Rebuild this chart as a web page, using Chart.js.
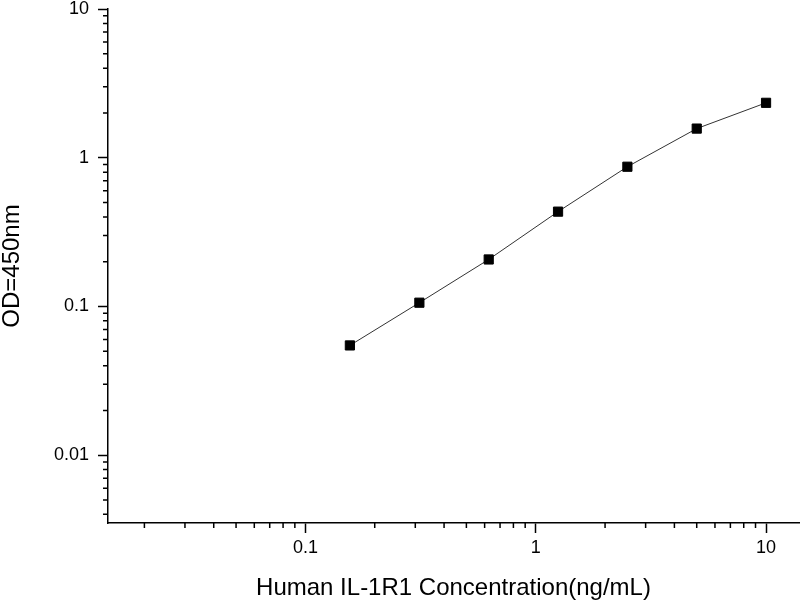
<!DOCTYPE html>
<html>
<head>
<meta charset="utf-8">
<script src="https://cdn.jsdelivr.net/npm/chart.js@4"></script>
<style>
  html, body { margin: 0; padding: 0; background: #fff; }
  #wrap { width: 800px; height: 600px; }
</style>
</head>
<body>
<div id="wrap"><canvas id="canvas" width="800" height="600"></canvas></div>
<script>
// standard curve
var concentrations = [0.156, 0.3125, 0.625, 1.25, 2.5, 5, 10];
var odValues = [0.0547, 0.106, 0.207, 0.434, 0.87, 1.57, 2.34];

var xMajorTicks = [0.1, 1, 10];
var yMajorTicks = [0.01, 0.1, 1, 10];
var xMinorTicks = [0.02, 0.03, 0.04, 0.05, 0.06, 0.07, 0.08, 0.09,
                   0.2, 0.3, 0.4, 0.5, 0.6, 0.7, 0.8, 0.9,
                   2, 3, 4, 5, 6, 7, 8, 9];
var yMinorTicks = [0.004, 0.005, 0.006, 0.007, 0.008, 0.009,
                   0.02, 0.03, 0.04, 0.05, 0.06, 0.07, 0.08, 0.09,
                   0.2, 0.3, 0.4, 0.5, 0.6, 0.7, 0.8, 0.9,
                   2, 3, 4, 5, 6, 7, 8, 9];

var fontFamily = "'Liberation Sans', Arial, sans-serif";

// short outward ticks between the labelled decades
var minorTicksPlugin = {
  id: "minorTicks",
  afterDraw: function (chart) {
    var ctx = chart.ctx;
    var xs = chart.scales.x, ys = chart.scales.y;
    ctx.save();
    ctx.strokeStyle = "#000";
    ctx.lineWidth = 1.5;
    ctx.beginPath();
    xMinorTicks.forEach(function (v) {
      var px = xs.getPixelForValue(v);
      if (px < xs.left || px > xs.right) return;
      ctx.moveTo(px, xs.top);
      ctx.lineTo(px, xs.top + 5);
    });
    yMinorTicks.forEach(function (v) {
      var py = ys.getPixelForValue(v);
      if (py < ys.top || py > ys.bottom) return;
      ctx.moveTo(ys.right, py);
      ctx.lineTo(ys.right - 5, py);
    });
    ctx.stroke();
    ctx.restore();
  }
};

new Chart(document.getElementById("canvas"), {
  type: "line",
  data: {
    datasets: [{
      data: concentrations.map(function (c, i) { return { x: c, y: odValues[i] }; }),
      borderColor: "#333",
      borderWidth: 1,
      tension: 0,
      clip: false,
      pointStyle: "rect",
      pointRadius: 6.5,
      pointBackgroundColor: "#000",
      pointBorderColor: "#000",
      pointBorderWidth: 1
    }]
  },
  options: {
    responsive: false,
    animation: false,
    layout: { autoPadding: false, padding: { top: 9, right: 1, bottom: 0, left: 0 } },
    plugins: { legend: { display: false }, tooltip: { enabled: false } },
    scales: {
      x: {
        type: "logarithmic",
        position: "bottom",
        min: 0.0139,
        max: 13.9,
        afterBuildTicks: function (scale) {
          scale.ticks = xMajorTicks.map(function (v) { return { value: v }; });
        },
        afterFit: function (scale) {
          scale.height = 77;
          scale.paddingLeft = 0;
          scale.paddingRight = 0;
        },
        ticks: {
          color: "#000",
          padding: 6,
          maxRotation: 0,
          autoSkip: false,
          font: { family: fontFamily, size: 18, lineHeight: 1 },
          callback: function (v) { return String(v); }
        },
        grid: { drawOnChartArea: false, tickLength: 10, tickWidth: 1.5, tickColor: "#000" },
        border: { display: true, color: "#000", width: 1.5 },
        title: {
          display: true,
          text: "Human IL-1R1 Concentration(ng/mL)",
          color: "#000",
          padding: 0,
          font: { family: fontFamily, size: 24, lineHeight: 1 }
        }
      },
      y: {
        type: "logarithmic",
        position: "left",
        min: 0.0035,
        max: 10,
        afterBuildTicks: function (scale) {
          scale.ticks = yMajorTicks.map(function (v) { return { value: v }; });
        },
        afterFit: function (scale) {
          scale.width = 108;
          scale.paddingTop = 0;
          scale.paddingBottom = 0;
        },
        ticks: {
          color: "#000",
          padding: 9,
          autoSkip: false,
          font: { family: fontFamily, size: 18, lineHeight: 1 },
          callback: function (v) { return String(v); }
        },
        grid: { drawOnChartArea: false, tickLength: 10, tickWidth: 1.5, tickColor: "#000" },
        border: { display: true, color: "#000", width: 1.5 },
        title: {
          display: true,
          text: "OD=450nm",
          color: "#000",
          padding: 0,
          font: { family: fontFamily, size: 24, lineHeight: 1 }
        }
      }
    }
  },
  plugins: [minorTicksPlugin]
});
</script>
</body>
</html>
